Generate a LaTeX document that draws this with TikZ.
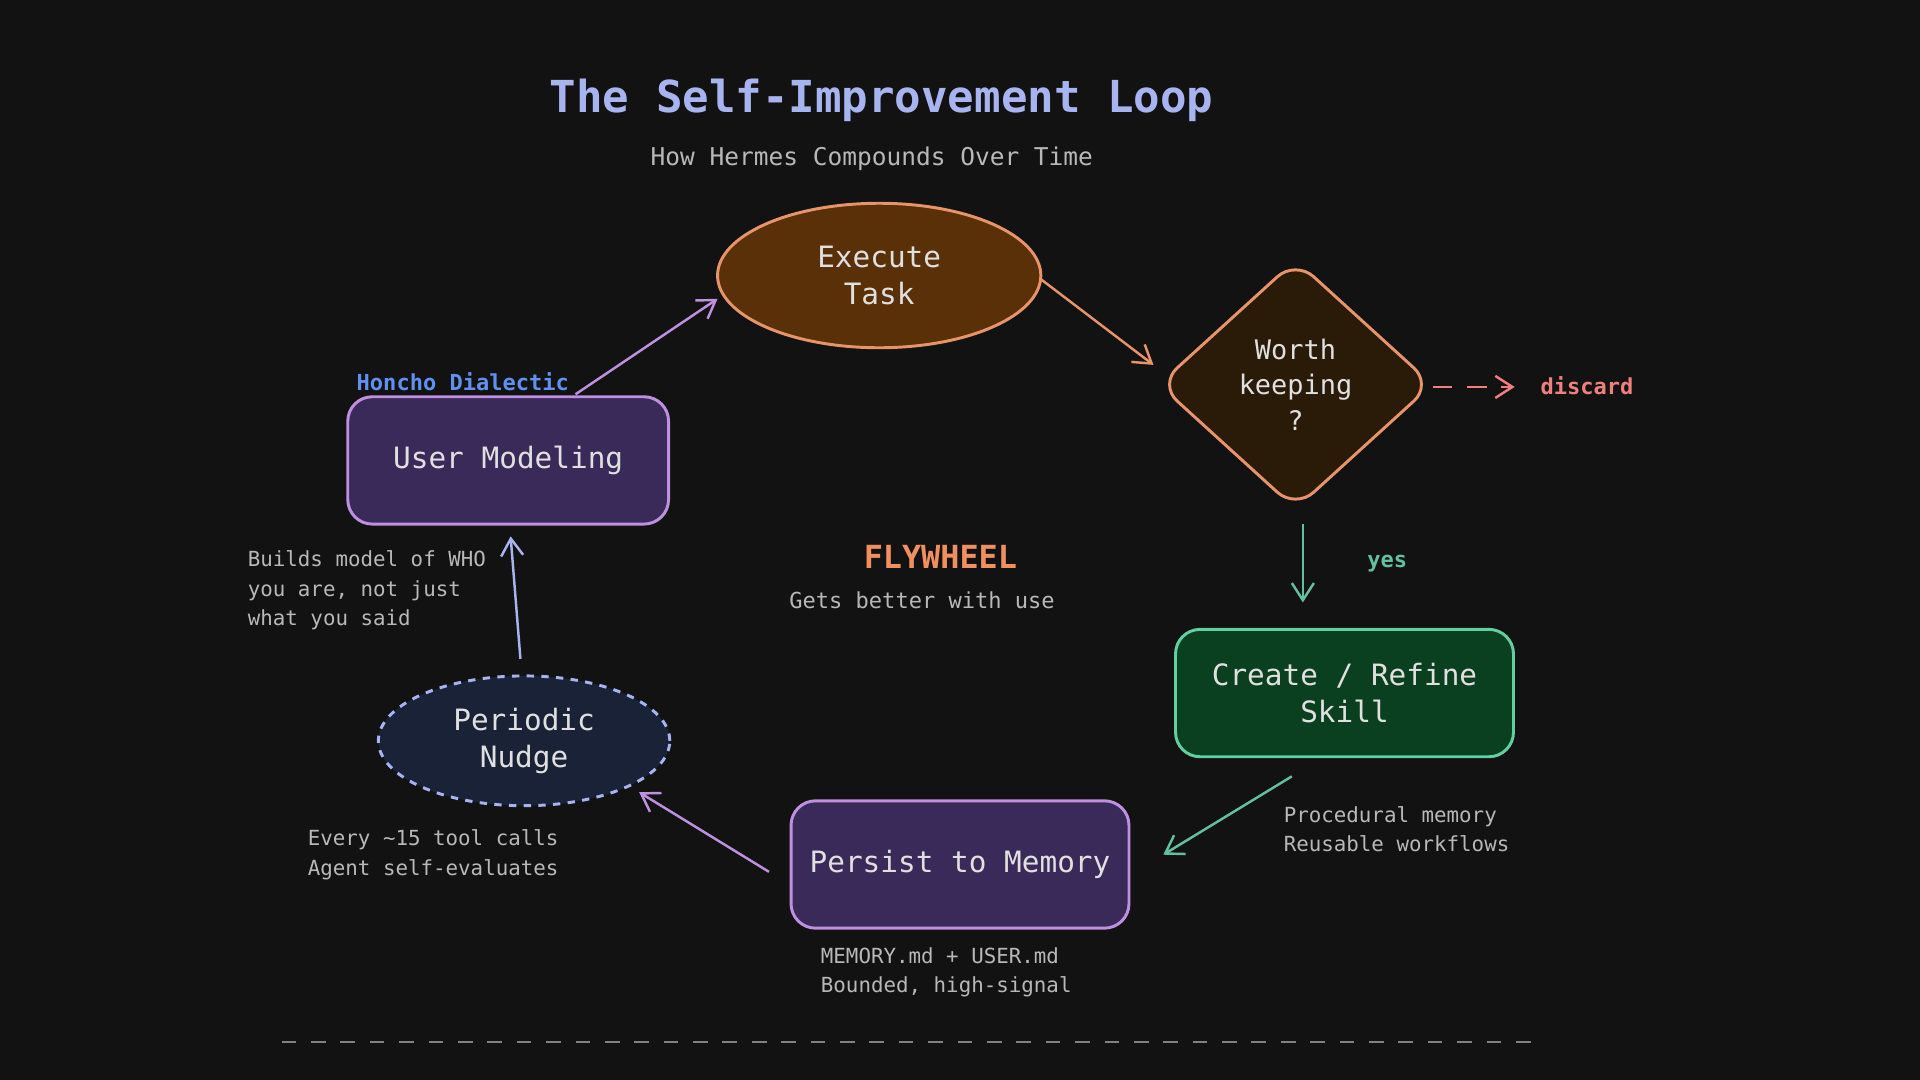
\documentclass[tikz,border=0pt]{standalone}
\usepackage{fontspec}
\setmonofont{DejaVu Sans Mono}
\usetikzlibrary{shapes.geometric,arrows.meta,positioning}
\definecolor{bg}{HTML}{121212}
\definecolor{titleblue}{HTML}{A8B4F0}
\definecolor{greytext}{HTML}{B8B8B8}
\definecolor{execfill}{HTML}{5A3008}
\definecolor{execdraw}{HTML}{E8946A}
\definecolor{diafill}{HTML}{2A1A08}
\definecolor{discardred}{HTML}{F08080}
\definecolor{teal}{HTML}{60C0A0}
\definecolor{skillfill}{HTML}{0A4020}
\definecolor{skilldraw}{HTML}{60D0A0}
\definecolor{purplefill}{HTML}{3A2A5A}
\definecolor{purpledraw}{HTML}{C090E0}
\definecolor{nudgefill}{HTML}{1A2238}
\definecolor{honcho}{HTML}{6090F0}
\definecolor{flyorange}{HTML}{F09060}
\begin{document}
\begin{tikzpicture}
[x=0.5pt, y=-0.5pt, font=\ttfamily,
box/.style={rectangle, rounded corners=10pt, line width=1.2pt, text=white!88!black, font=\ttfamily\fontsize{12}{15}\selectfont, align=center, inner sep=0pt},
note/.style={text=greytext, font=\ttfamily\fontsize{8.5}{12}\selectfont, align=left, anchor=west, inner sep=0pt},
arrow/.style={line width=1pt, -{Straight Barb[length=7pt,width=9pt]}},
]
    \fill[bg] (0,0) rectangle (1568,882);
    \node (title) [text=titleblue, font=\ttfamily\bfseries\fontsize{18}{22}\selectfont] at (720,82) {The Self-Improvement Loop};
    \node (sub) [text=greytext, font=\ttfamily\fontsize{10}{12}\selectfont] at (712,130) {How Hermes Compounds Over Time};

    \node (exec) [box, ellipse, fill=execfill, draw=execdraw, minimum width=132pt, minimum height=59pt] at (718,225) {Execute\\Task};
    \node (worth) [box, diamond, fill=diafill, draw=execdraw, minimum width=112pt, minimum height=102pt, font=\ttfamily\fontsize{11}{14.5}\selectfont] at (1058,314) {Worth\\keeping\\?};
    \node (discard) [text=discardred, font=\ttfamily\bfseries\fontsize{9}{11}\selectfont] at (1296,315) {discard};
    \node (skill) [box, fill=skillfill, draw=skilldraw, minimum width=138pt, minimum height=52pt] at (1098,566) {Create / Refine\\Skill};
    \node (persist) [box, fill=purplefill, draw=purpledraw, minimum width=138pt, minimum height=52pt] at (784,706) {Persist to Memory};
    \node (nudge) [box, ellipse, dashed, fill=nudgefill, draw=titleblue, minimum width=119pt, minimum height=53pt] at (428,605) {Periodic\\Nudge};
    \node (user) [box, fill=purplefill, draw=purpledraw, minimum width=131pt, minimum height=52pt] at (415,376) {User Modeling};

    \node (yes) [text=teal, font=\ttfamily\bfseries\fontsize{9}{11}\selectfont] at (1133,460) {yes};
    \node (proc) [note] at (1048,677) {Procedural memory\\Reusable workflows};
    \node (mem) [note] at (670,794) {MEMORY.md + USER.md\\Bounded, high-signal};
    \node (every) [note] at (251,698) {Every \textasciitilde15 tool calls\\Agent self-evaluates};
    \node (builds) [note] at (202,482) {Builds model of WHO\\you are, not just\\what you said};
    \node (honcho) [text=honcho, font=\ttfamily\bfseries\fontsize{9}{11}\selectfont] at (378,312) {Honcho Dialectic};
    \node (fly) [text=flyorange, font=\ttfamily\bfseries\fontsize{13}{15}\selectfont] at (768,455) {FLYWHEEL};
    \node (better) [text=greytext, font=\ttfamily\fontsize{9}{11}\selectfont] at (753,490) {Gets better with use};

    \coordinate (e1) at (850,228); \coordinate (e2) at (942,298);
    \coordinate (d1) at (1170,316); \coordinate (d2) at (1237,316);
    \coordinate (y1) at (1064,428); \coordinate (y2) at (1064,492);
    \coordinate (s1) at (1055,634); \coordinate (s2) at (950,698);
    \coordinate (p1) at (628,712); \coordinate (p2) at (522,647);
    \coordinate (n1) at (425,538); \coordinate (n2) at (417,438);
    \coordinate (u1) at (470,322); \coordinate (u2) at (586,244);
    \draw[arrow, execdraw] (e1) -- (e2);
    \draw[arrow, discardred, dashed, dash pattern=on 8pt off 6pt] (d1) -- (d2);
    \draw[arrow, teal] (y1) -- (y2);
    \draw[arrow, teal] (s1) -- (s2);
    \draw[arrow, purpledraw] (p1) -- (p2);
    \draw[arrow, titleblue] (n1) -- (n2);
    \draw[arrow, purpledraw] (u1) -- (u2);

    \draw[greytext!70!black, line width=1pt, dash pattern=on 6pt off 6pt] (230,851) -- (1250,851);
\end{tikzpicture}
\end{document}
